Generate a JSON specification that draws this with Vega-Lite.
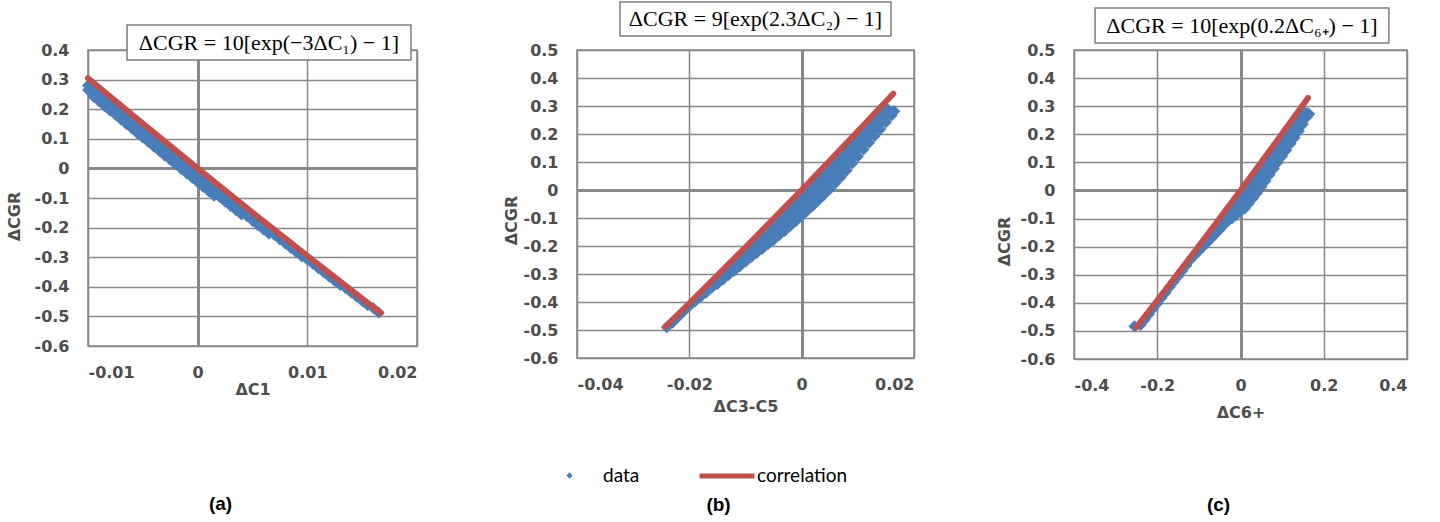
{
  "$schema": "https://vega.github.io/schema/vega-lite/v6.json",
  "background": "white",
  "padding": {"left": 5, "top": 0, "right": 10, "bottom": 5},
  "datasets": {
    "fit": [
      {"p": "a", "x": -0.01, "y": 0.3045}, {"p": "a", "x": -0.005, "y": 0.1511}, {"p": "a", "x": 0, "y": 0},
      {"p": "a", "x": 0.005, "y": -0.1489}, {"p": "a", "x": 0.01, "y": -0.2955}, {"p": "a", "x": 0.0167, "y": -0.4886},
      {"p": "b", "x": -0.0243, "y": -0.489}, {"p": "b", "x": -0.02, "y": -0.4046}, {"p": "b", "x": -0.01, "y": -0.2046},
      {"p": "b", "x": 0, "y": 0}, {"p": "b", "x": 0.01, "y": 0.2094}, {"p": "b", "x": 0.0163, "y": 0.3438},
      {"p": "c", "x": -0.25, "y": -0.4877}, {"p": "c", "x": -0.2, "y": -0.3921}, {"p": "c", "x": -0.1, "y": -0.198},
      {"p": "c", "x": 0, "y": 0}, {"p": "c", "x": 0.1, "y": 0.202}, {"p": "c", "x": 0.162, "y": 0.3293}
    ],
    "pts": [
      {"p":"a","x":-0.01,"y":0.28},{"p":"a","x":-0.01,"y":0.265},
      {"p":"a","x":-0.0095,"y":0.272},{"p":"a","x":-0.0095,"y":0.257},{"p":"a","x":-0.0095,"y":0.242},
      {"p":"a","x":-0.009,"y":0.257},{"p":"a","x":-0.009,"y":0.242},{"p":"a","x":-0.009,"y":0.227},
      {"p":"a","x":-0.0085,"y":0.241},{"p":"a","x":-0.0085,"y":0.226},{"p":"a","x":-0.0085,"y":0.211},
      {"p":"a","x":-0.008,"y":0.226},{"p":"a","x":-0.008,"y":0.211},{"p":"a","x":-0.008,"y":0.196},
      {"p":"a","x":-0.0075,"y":0.211},{"p":"a","x":-0.0075,"y":0.196},{"p":"a","x":-0.0075,"y":0.181},
      {"p":"a","x":-0.007,"y":0.195},{"p":"a","x":-0.007,"y":0.18},{"p":"a","x":-0.007,"y":0.165},
      {"p":"a","x":-0.0065,"y":0.18},{"p":"a","x":-0.0065,"y":0.165},{"p":"a","x":-0.0065,"y":0.15},
      {"p":"a","x":-0.006,"y":0.165},{"p":"a","x":-0.006,"y":0.15},{"p":"a","x":-0.006,"y":0.135},
      {"p":"a","x":-0.0055,"y":0.149},{"p":"a","x":-0.0055,"y":0.134},{"p":"a","x":-0.0055,"y":0.119},
      {"p":"a","x":-0.005,"y":0.134},{"p":"a","x":-0.005,"y":0.119},{"p":"a","x":-0.005,"y":0.104},
      {"p":"a","x":-0.0045,"y":0.119},{"p":"a","x":-0.0045,"y":0.104},{"p":"a","x":-0.0045,"y":0.089},
      {"p":"a","x":-0.004,"y":0.104},{"p":"a","x":-0.004,"y":0.089},{"p":"a","x":-0.004,"y":0.074},
      {"p":"a","x":-0.0035,"y":0.089},{"p":"a","x":-0.0035,"y":0.074},{"p":"a","x":-0.0035,"y":0.059},
      {"p":"a","x":-0.003,"y":0.073},{"p":"a","x":-0.003,"y":0.058},{"p":"a","x":-0.003,"y":0.043},
      {"p":"a","x":-0.0025,"y":0.058},{"p":"a","x":-0.0025,"y":0.043},{"p":"a","x":-0.0025,"y":0.028},
      {"p":"a","x":-0.002,"y":0.043},{"p":"a","x":-0.002,"y":0.028},{"p":"a","x":-0.002,"y":0.013},
      {"p":"a","x":-0.0015,"y":0.028},{"p":"a","x":-0.0015,"y":0.013},{"p":"a","x":-0.0015,"y":-0.002},
      {"p":"a","x":-0.001,"y":0.013},{"p":"a","x":-0.001,"y":-0.002},{"p":"a","x":-0.001,"y":-0.017},
      {"p":"a","x":-0.0005,"y":-0.002},{"p":"a","x":-0.0005,"y":-0.017},{"p":"a","x":-0.0005,"y":-0.032},
      {"p":"a","x":0,"y":-0.017},{"p":"a","x":0,"y":-0.032},{"p":"a","x":0,"y":-0.047},
      {"p":"a","x":0.0005,"y":-0.032},{"p":"a","x":0.0005,"y":-0.047},{"p":"a","x":0.0005,"y":-0.062},
      {"p":"a","x":0.001,"y":-0.047},{"p":"a","x":0.001,"y":-0.062},{"p":"a","x":0.001,"y":-0.077},
      {"p":"a","x":0.0015,"y":-0.062},{"p":"a","x":0.0015,"y":-0.077},{"p":"a","x":0.0015,"y":-0.092},
      {"p":"a","x":0.002,"y":-0.077},{"p":"a","x":0.002,"y":-0.097},
      {"p":"a","x":0.0025,"y":-0.092},{"p":"a","x":0.0025,"y":-0.112},
      {"p":"a","x":0.003,"y":-0.107},{"p":"a","x":0.003,"y":-0.127},
      {"p":"a","x":0.0035,"y":-0.121},{"p":"a","x":0.0035,"y":-0.141},
      {"p":"a","x":0.004,"y":-0.136},{"p":"a","x":0.004,"y":-0.156},
      {"p":"a","x":0.0045,"y":-0.151},{"p":"a","x":0.0045,"y":-0.162},
      {"p":"a","x":0.005,"y":-0.166},{"p":"a","x":0.005,"y":-0.177},
      {"p":"a","x":0.0055,"y":-0.181},{"p":"a","x":0.0055,"y":-0.192},
      {"p":"a","x":0.006,"y":-0.195},{"p":"a","x":0.006,"y":-0.206},
      {"p":"a","x":0.0065,"y":-0.21},{"p":"a","x":0.0065,"y":-0.221},
      {"p":"a","x":0.007,"y":-0.225},{"p":"a","x":0.0075,"y":-0.24},{"p":"a","x":0.008,"y":-0.254},
      {"p":"a","x":0.0085,"y":-0.269},{"p":"a","x":0.009,"y":-0.283},{"p":"a","x":0.0095,"y":-0.298},
      {"p":"a","x":0.01,"y":-0.308},{"p":"a","x":0.0105,"y":-0.322},{"p":"a","x":0.011,"y":-0.337},
      {"p":"a","x":0.0115,"y":-0.351},{"p":"a","x":0.012,"y":-0.366},{"p":"a","x":0.0125,"y":-0.38},
      {"p":"a","x":0.013,"y":-0.394},{"p":"a","x":0.0135,"y":-0.405},{"p":"a","x":0.014,"y":-0.419},
      {"p":"a","x":0.0145,"y":-0.434},{"p":"a","x":0.015,"y":-0.448},{"p":"a","x":0.0155,"y":-0.462},
      {"p":"a","x":0.016,"y":-0.472},{"p":"a","x":0.0165,"y":-0.487},

      {"p":"b","x":-0.024,"y":-0.49},{"p":"b","x":-0.023,"y":-0.474},{"p":"b","x":-0.022,"y":-0.454},
      {"p":"b","x":-0.021,"y":-0.434},{"p":"b","x":-0.02,"y":-0.415},{"p":"b","x":-0.019,"y":-0.398},
      {"p":"b","x":-0.018,"y":-0.382},{"p":"b","x":-0.017,"y":-0.366},{"p":"b","x":-0.016,"y":-0.349},
      {"p":"b","x":-0.015,"y":-0.326},{"p":"b","x":-0.015,"y":-0.336},
      {"p":"b","x":-0.014,"y":-0.306},{"p":"b","x":-0.014,"y":-0.32},
      {"p":"b","x":-0.013,"y":-0.286},{"p":"b","x":-0.013,"y":-0.304},
      {"p":"b","x":-0.012,"y":-0.266},{"p":"b","x":-0.012,"y":-0.288},
      {"p":"b","x":-0.011,"y":-0.246},{"p":"b","x":-0.011,"y":-0.259},{"p":"b","x":-0.011,"y":-0.272},
      {"p":"b","x":-0.01,"y":-0.226},{"p":"b","x":-0.01,"y":-0.241},{"p":"b","x":-0.01,"y":-0.256},
      {"p":"b","x":-0.009,"y":-0.205},{"p":"b","x":-0.009,"y":-0.222},{"p":"b","x":-0.009,"y":-0.24},
      {"p":"b","x":-0.008,"y":-0.185},{"p":"b","x":-0.008,"y":-0.205},{"p":"b","x":-0.008,"y":-0.225},
      {"p":"b","x":-0.007,"y":-0.165},{"p":"b","x":-0.007,"y":-0.187},{"p":"b","x":-0.007,"y":-0.21},
      {"p":"b","x":-0.006,"y":-0.144},{"p":"b","x":-0.006,"y":-0.161},{"p":"b","x":-0.006,"y":-0.177},{"p":"b","x":-0.006,"y":-0.194},
      {"p":"b","x":-0.005,"y":-0.124},{"p":"b","x":-0.005,"y":-0.142},{"p":"b","x":-0.005,"y":-0.161},{"p":"b","x":-0.005,"y":-0.179},
      {"p":"b","x":-0.004,"y":-0.103},{"p":"b","x":-0.004,"y":-0.123},{"p":"b","x":-0.004,"y":-0.143},{"p":"b","x":-0.004,"y":-0.162},
      {"p":"b","x":-0.003,"y":-0.083},{"p":"b","x":-0.003,"y":-0.104},{"p":"b","x":-0.003,"y":-0.125},{"p":"b","x":-0.003,"y":-0.146},
      {"p":"b","x":-0.002,"y":-0.062},{"p":"b","x":-0.002,"y":-0.084},{"p":"b","x":-0.002,"y":-0.106},{"p":"b","x":-0.002,"y":-0.128},
      {"p":"b","x":-0.001,"y":-0.042},{"p":"b","x":-0.001,"y":-0.065},{"p":"b","x":-0.001,"y":-0.088},{"p":"b","x":-0.001,"y":-0.111},
      {"p":"b","x":0,"y":-0.021},{"p":"b","x":0,"y":-0.039},{"p":"b","x":0,"y":-0.057},{"p":"b","x":0,"y":-0.075},{"p":"b","x":0,"y":-0.093},
      {"p":"b","x":0.001,"y":0},{"p":"b","x":0.001,"y":-0.019},{"p":"b","x":0.001,"y":-0.037},{"p":"b","x":0.001,"y":-0.056},{"p":"b","x":0.001,"y":-0.074},
      {"p":"b","x":0.002,"y":0.021},{"p":"b","x":0.002,"y":0.002},{"p":"b","x":0.002,"y":-0.017},{"p":"b","x":0.002,"y":-0.036},{"p":"b","x":0.002,"y":-0.056},
      {"p":"b","x":0.003,"y":0.041},{"p":"b","x":0.003,"y":0.022},{"p":"b","x":0.003,"y":0.002},{"p":"b","x":0.003,"y":-0.017},{"p":"b","x":0.003,"y":-0.037},
      {"p":"b","x":0.004,"y":0.062},{"p":"b","x":0.004,"y":0.042},{"p":"b","x":0.004,"y":0.022},{"p":"b","x":0.004,"y":0.002},{"p":"b","x":0.004,"y":-0.017},
      {"p":"b","x":0.005,"y":0.083},{"p":"b","x":0.005,"y":0.063},{"p":"b","x":0.005,"y":0.043},{"p":"b","x":0.005,"y":0.023},{"p":"b","x":0.005,"y":0.003},
      {"p":"b","x":0.006,"y":0.104},{"p":"b","x":0.006,"y":0.084},{"p":"b","x":0.006,"y":0.064},{"p":"b","x":0.006,"y":0.044},{"p":"b","x":0.006,"y":0.024},
      {"p":"b","x":0.007,"y":0.125},{"p":"b","x":0.007,"y":0.105},{"p":"b","x":0.007,"y":0.085},{"p":"b","x":0.007,"y":0.066},{"p":"b","x":0.007,"y":0.046},
      {"p":"b","x":0.008,"y":0.146},{"p":"b","x":0.008,"y":0.127},{"p":"b","x":0.008,"y":0.108},{"p":"b","x":0.008,"y":0.089},{"p":"b","x":0.008,"y":0.07},
      {"p":"b","x":0.009,"y":0.167},{"p":"b","x":0.009,"y":0.149},{"p":"b","x":0.009,"y":0.131},{"p":"b","x":0.009,"y":0.113},{"p":"b","x":0.009,"y":0.095},
      {"p":"b","x":0.01,"y":0.188},{"p":"b","x":0.01,"y":0.166},{"p":"b","x":0.01,"y":0.143},{"p":"b","x":0.01,"y":0.12},
      {"p":"b","x":0.011,"y":0.21},{"p":"b","x":0.011,"y":0.188},{"p":"b","x":0.011,"y":0.166},{"p":"b","x":0.011,"y":0.145},
      {"p":"b","x":0.012,"y":0.231},{"p":"b","x":0.012,"y":0.21},{"p":"b","x":0.012,"y":0.189},{"p":"b","x":0.012,"y":0.169},
      {"p":"b","x":0.013,"y":0.252},{"p":"b","x":0.013,"y":0.232},{"p":"b","x":0.013,"y":0.213},{"p":"b","x":0.013,"y":0.193},
      {"p":"b","x":0.014,"y":0.273},{"p":"b","x":0.014,"y":0.255},{"p":"b","x":0.014,"y":0.236},{"p":"b","x":0.014,"y":0.217},
      {"p":"b","x":0.015,"y":0.295},{"p":"b","x":0.015,"y":0.277},{"p":"b","x":0.015,"y":0.26},{"p":"b","x":0.015,"y":0.242},
      {"p":"b","x":0.016,"y":0.279},{"p":"b","x":0.016,"y":0.266},{"p":"b","x":0.0165,"y":0.281},

      {"p":"c","x":-0.255,"y":-0.483},{"p":"c","x":-0.24,"y":-0.479},{"p":"c","x":-0.23,"y":-0.46},
      {"p":"c","x":-0.22,"y":-0.441},{"p":"c","x":-0.21,"y":-0.421},{"p":"c","x":-0.2,"y":-0.402},
      {"p":"c","x":-0.19,"y":-0.383},{"p":"c","x":-0.18,"y":-0.364},{"p":"c","x":-0.17,"y":-0.344},
      {"p":"c","x":-0.16,"y":-0.325},{"p":"c","x":-0.15,"y":-0.306},{"p":"c","x":-0.14,"y":-0.286},
      {"p":"c","x":-0.13,"y":-0.267},{"p":"c","x":-0.12,"y":-0.247},{"p":"c","x":-0.11,"y":-0.231},
      {"p":"c","x":-0.1,"y":-0.216},{"p":"c","x":-0.09,"y":-0.2},
      {"p":"c","x":-0.08,"y":-0.18},{"p":"c","x":-0.08,"y":-0.186},
      {"p":"c","x":-0.07,"y":-0.16},{"p":"c","x":-0.07,"y":-0.171},
      {"p":"c","x":-0.06,"y":-0.14},{"p":"c","x":-0.06,"y":-0.155},
      {"p":"c","x":-0.05,"y":-0.121},{"p":"c","x":-0.05,"y":-0.14},
      {"p":"c","x":-0.04,"y":-0.101},{"p":"c","x":-0.04,"y":-0.124},
      {"p":"c","x":-0.03,"y":-0.081},{"p":"c","x":-0.03,"y":-0.095},{"p":"c","x":-0.03,"y":-0.109},
      {"p":"c","x":-0.02,"y":-0.061},{"p":"c","x":-0.02,"y":-0.08},{"p":"c","x":-0.02,"y":-0.099},
      {"p":"c","x":-0.01,"y":-0.041},{"p":"c","x":-0.01,"y":-0.064},{"p":"c","x":-0.01,"y":-0.087},
      {"p":"c","x":0,"y":-0.021},{"p":"c","x":0,"y":-0.039},{"p":"c","x":0,"y":-0.056},{"p":"c","x":0,"y":-0.074},
      {"p":"c","x":0.01,"y":-0.001},{"p":"c","x":0.01,"y":-0.022},{"p":"c","x":0.01,"y":-0.043},{"p":"c","x":0.01,"y":-0.064},
      {"p":"c","x":0.02,"y":0.019},{"p":"c","x":0.02,"y":-0.003},{"p":"c","x":0.02,"y":-0.024},{"p":"c","x":0.02,"y":-0.046},
      {"p":"c","x":0.03,"y":0.039},{"p":"c","x":0.03,"y":0.017},{"p":"c","x":0.03,"y":-0.005},{"p":"c","x":0.03,"y":-0.028},
      {"p":"c","x":0.04,"y":0.059},{"p":"c","x":0.04,"y":0.037},{"p":"c","x":0.04,"y":0.014},{"p":"c","x":0.04,"y":-0.009},
      {"p":"c","x":0.05,"y":0.08},{"p":"c","x":0.05,"y":0.057},{"p":"c","x":0.05,"y":0.034},{"p":"c","x":0.05,"y":0.012},
      {"p":"c","x":0.06,"y":0.1},{"p":"c","x":0.06,"y":0.078},{"p":"c","x":0.06,"y":0.056},{"p":"c","x":0.06,"y":0.034},
      {"p":"c","x":0.07,"y":0.12},{"p":"c","x":0.07,"y":0.099},{"p":"c","x":0.07,"y":0.077},{"p":"c","x":0.07,"y":0.056},
      {"p":"c","x":0.08,"y":0.14},{"p":"c","x":0.08,"y":0.119},{"p":"c","x":0.08,"y":0.098},{"p":"c","x":0.08,"y":0.077},
      {"p":"c","x":0.09,"y":0.161},{"p":"c","x":0.09,"y":0.14},{"p":"c","x":0.09,"y":0.12},{"p":"c","x":0.09,"y":0.1},
      {"p":"c","x":0.1,"y":0.181},{"p":"c","x":0.1,"y":0.161},{"p":"c","x":0.1,"y":0.142},{"p":"c","x":0.1,"y":0.122},
      {"p":"c","x":0.11,"y":0.201},{"p":"c","x":0.11,"y":0.182},{"p":"c","x":0.11,"y":0.163},{"p":"c","x":0.11,"y":0.143},
      {"p":"c","x":0.12,"y":0.222},{"p":"c","x":0.12,"y":0.203},{"p":"c","x":0.12,"y":0.185},{"p":"c","x":0.12,"y":0.166},
      {"p":"c","x":0.13,"y":0.242},{"p":"c","x":0.13,"y":0.224},{"p":"c","x":0.13,"y":0.206},{"p":"c","x":0.13,"y":0.188},
      {"p":"c","x":0.14,"y":0.263},{"p":"c","x":0.14,"y":0.246},{"p":"c","x":0.14,"y":0.228},{"p":"c","x":0.14,"y":0.211},
      {"p":"c","x":0.15,"y":0.284},{"p":"c","x":0.15,"y":0.268},{"p":"c","x":0.15,"y":0.252},{"p":"c","x":0.15,"y":0.236},
      {"p":"c","x":0.16,"y":0.276},{"p":"c","x":0.16,"y":0.262},{"p":"c","x":0.165,"y":0.272}
    ]
  },
  "spacing": 160,
  "bounds": "flush",
  "resolve": {
    "scale": {"x": "independent", "y": "independent", "fill": "shared", "stroke": "shared"},
    "legend": {"fill": "shared", "stroke": "shared"}
  },
  "hconcat": [
    {
      "width": 329,
      "height": 296,
      "title": {"text": "(a)", "orient": "bottom", "offset": 98, "dx": -32},
      "layer": [
        {
          "data": {"name": "pts"},
          "transform": [{"filter": "datum.p === 'a'"}],
          "mark": {"type": "point", "shape": "diamond", "filled": true, "size": 144, "opacity": 1},
          "encoding": {
            "x": {"field": "x", "type": "quantitative",
              "scale": {"domain": [-0.01, 0.02], "nice": false, "zero": false},
              "axis": {"title": "ΔC1", "values": [-0.01, 0, 0.01, 0.02], "tickCount": 4, "titlePadding": 1,
                "labelExpr": "replace(datum.label, '\u2212', '-')",
                "gridWidth": {"condition": {"test": "datum.value === 0", "value": 3}, "value": 1.5}}},
            "y": {"field": "y", "type": "quantitative",
              "scale": {"domain": [-0.6, 0.4], "nice": false, "zero": false},
              "axis": {"title": "ΔCGR", "values": [-0.6, -0.5, -0.4, -0.3, -0.2, -0.1, 0, 0.1, 0.2, 0.3, 0.4], "tickCount": 11,
                "titlePadding": 12, "titleY": 166,
                "labelExpr": "replace(datum.label, '\u2212', '-')",
                "gridWidth": {"condition": {"test": "datum.value === 0", "value": 3}, "value": 1.5}}},
            "fill": {"datum": "data", "type": "nominal",
              "scale": {"domain": ["data"], "range": ["#4a7ebb"]},
              "legend": {"orient": "none", "legendX": 472, "legendY": 416, "title": null,
                "symbolType": "diamond", "symbolSize": 40, "labelOffset": 24}}
          }
        },
        {
          "data": {"name": "fit"},
          "transform": [{"filter": "datum.p === 'a'"}],
          "mark": {"type": "line", "strokeWidth": 6, "strokeCap": "round"},
          "encoding": {
            "x": {"field": "x", "type": "quantitative",
              "scale": {"domain": [-0.01, 0.02], "nice": false, "zero": false},
              "axis": {"title": "ΔC1", "values": [-0.01, 0, 0.01, 0.02], "tickCount": 4, "titlePadding": 1,
                "labelExpr": "replace(datum.label, '\u2212', '-')",
                "gridWidth": {"condition": {"test": "datum.value === 0", "value": 3}, "value": 1.5}}},
            "y": {"field": "y", "type": "quantitative",
              "scale": {"domain": [-0.6, 0.4], "nice": false, "zero": false},
              "axis": {"title": "ΔCGR", "values": [-0.6, -0.5, -0.4, -0.3, -0.2, -0.1, 0, 0.1, 0.2, 0.3, 0.4], "tickCount": 11,
                "titlePadding": 12, "titleY": 166,
                "labelExpr": "replace(datum.label, '\u2212', '-')",
                "gridWidth": {"condition": {"test": "datum.value === 0", "value": 3}, "value": 1.5}}},
            "stroke": {"datum": "correlation", "type": "nominal",
              "scale": {"domain": ["correlation"], "range": ["#c0504d"]},
              "legend": {"orient": "none", "legendX": 609, "legendY": 396, "title": null,
                "symbolType": "stroke", "symbolSize": 3025, "symbolStrokeWidth": 5, "labelOffset": 0}}
          }
        },
        {
          "data": {"values": [{}]},
          "mark": {"type": "rect", "fill": "white", "stroke": "#7f7f7f", "strokeWidth": 1.5},
          "encoding": {
            "x": {"datum": -0.00644, "type": "quantitative",
              "scale": {"domain": [-0.01, 0.02], "nice": false, "zero": false},
              "axis": {"title": "ΔC1", "values": [-0.01, 0, 0.01, 0.02], "tickCount": 4, "titlePadding": 1,
                "labelExpr": "replace(datum.label, '\u2212', '-')",
                "gridWidth": {"condition": {"test": "datum.value === 0", "value": 3}, "value": 1.5}}},
            "x2": {"datum": 0.01945},
            "y": {"datum": 0.4845, "type": "quantitative",
              "scale": {"domain": [-0.6, 0.4], "nice": false, "zero": false},
              "axis": {"title": "ΔCGR", "values": [-0.6, -0.5, -0.4, -0.3, -0.2, -0.1, 0, 0.1, 0.2, 0.3, 0.4], "tickCount": 11,
                "titlePadding": 12, "titleY": 166,
                "labelExpr": "replace(datum.label, '\u2212', '-')",
                "gridWidth": {"condition": {"test": "datum.value === 0", "value": 3}, "value": 1.5}}},
            "y2": {"datum": 0.366}
          }
        },
        {
          "data": {"values": [{}]},
          "mark": {"type": "text", "font": "Liberation Serif", "fontSize": 22, "color": "black", "align": "center", "baseline": "middle"},
          "encoding": {
            "x": {"datum": 0.0065, "type": "quantitative",
              "scale": {"domain": [-0.01, 0.02], "nice": false, "zero": false},
              "axis": {"title": "ΔC1", "values": [-0.01, 0, 0.01, 0.02], "tickCount": 4, "titlePadding": 1,
                "labelExpr": "replace(datum.label, '\u2212', '-')",
                "gridWidth": {"condition": {"test": "datum.value === 0", "value": 3}, "value": 1.5}}},
            "y": {"datum": 0.4253, "type": "quantitative",
              "scale": {"domain": [-0.6, 0.4], "nice": false, "zero": false},
              "axis": {"title": "ΔCGR", "values": [-0.6, -0.5, -0.4, -0.3, -0.2, -0.1, 0, 0.1, 0.2, 0.3, 0.4], "tickCount": 11,
                "titlePadding": 12, "titleY": 166,
                "labelExpr": "replace(datum.label, '\u2212', '-')",
                "gridWidth": {"condition": {"test": "datum.value === 0", "value": 3}, "value": 1.5}}},
            "text": {"value": "ΔCGR = 10[exp(−3ΔC₁) − 1]"}
          }
        }
      ]
    },
    {
      "width": 337,
      "height": 308,
      "title": {"text": "(b)", "orient": "bottom", "offset": 82, "dx": -27},
      "layer": [
        {
          "data": {"name": "pts"},
          "transform": [{"filter": "datum.p === 'b'"}],
          "mark": {"type": "point", "shape": "diamond", "filled": true, "size": 144, "opacity": 1},
          "encoding": {
            "x": {"field": "x", "type": "quantitative",
              "scale": {"domain": [-0.04, 0.02], "nice": false, "zero": false},
              "axis": {"title": "ΔC3-C5", "values": [-0.04, -0.02, 0, 0.02], "tickCount": 4, "titlePadding": 6,
                "labelExpr": "replace(datum.label, '\u2212', '-')",
                "gridWidth": {"condition": {"test": "datum.value === 0", "value": 3}, "value": 1.5}}},
            "y": {"field": "y", "type": "quantitative",
              "scale": {"domain": [-0.6, 0.5], "nice": false, "zero": false},
              "axis": {"title": "ΔCGR", "values": [-0.6, -0.5, -0.4, -0.3, -0.2, -0.1, 0, 0.1, 0.2, 0.3, 0.4, 0.5], "tickCount": 12,
                "titlePadding": 4, "titleY": 170,
                "labelExpr": "replace(datum.label, '\u2212', '-')",
                "gridWidth": {"condition": {"test": "datum.value === 0", "value": 3}, "value": 1.5}}},
            "fill": {"datum": "data", "type": "nominal"}
          }
        },
        {
          "data": {"name": "fit"},
          "transform": [{"filter": "datum.p === 'b'"}],
          "mark": {"type": "line", "strokeWidth": 6, "strokeCap": "round"},
          "encoding": {
            "x": {"field": "x", "type": "quantitative",
              "scale": {"domain": [-0.04, 0.02], "nice": false, "zero": false},
              "axis": {"title": "ΔC3-C5", "values": [-0.04, -0.02, 0, 0.02], "tickCount": 4, "titlePadding": 6,
                "labelExpr": "replace(datum.label, '\u2212', '-')",
                "gridWidth": {"condition": {"test": "datum.value === 0", "value": 3}, "value": 1.5}}},
            "y": {"field": "y", "type": "quantitative",
              "scale": {"domain": [-0.6, 0.5], "nice": false, "zero": false},
              "axis": {"title": "ΔCGR", "values": [-0.6, -0.5, -0.4, -0.3, -0.2, -0.1, 0, 0.1, 0.2, 0.3, 0.4, 0.5], "tickCount": 12,
                "titlePadding": 4, "titleY": 170,
                "labelExpr": "replace(datum.label, '\u2212', '-')",
                "gridWidth": {"condition": {"test": "datum.value === 0", "value": 3}, "value": 1.5}}},
            "stroke": {"datum": "correlation", "type": "nominal"}
          }
        },
        {
          "data": {"values": [{}]},
          "mark": {"type": "rect", "fill": "white", "stroke": "#7f7f7f", "strokeWidth": 1.5},
          "encoding": {
            "x": {"datum": -0.03234, "type": "quantitative",
              "scale": {"domain": [-0.04, 0.02], "nice": false, "zero": false},
              "axis": {"title": "ΔC3-C5", "values": [-0.04, -0.02, 0, 0.02], "tickCount": 4, "titlePadding": 6,
                "labelExpr": "replace(datum.label, '\u2212', '-')",
                "gridWidth": {"condition": {"test": "datum.value === 0", "value": 3}, "value": 1.5}}},
            "x2": {"datum": 0.0159},
            "y": {"datum": 0.6714, "type": "quantitative",
              "scale": {"domain": [-0.6, 0.5], "nice": false, "zero": false},
              "axis": {"title": "ΔCGR", "values": [-0.6, -0.5, -0.4, -0.3, -0.2, -0.1, 0, 0.1, 0.2, 0.3, 0.4, 0.5], "tickCount": 12,
                "titlePadding": 4, "titleY": 170,
                "labelExpr": "replace(datum.label, '\u2212', '-')",
                "gridWidth": {"condition": {"test": "datum.value === 0", "value": 3}, "value": 1.5}}},
            "y2": {"datum": 0.55}
          }
        },
        {
          "data": {"values": [{}]},
          "mark": {"type": "text", "font": "Liberation Serif", "fontSize": 22, "color": "black", "align": "center", "baseline": "middle"},
          "encoding": {
            "x": {"datum": -0.00822, "type": "quantitative",
              "scale": {"domain": [-0.04, 0.02], "nice": false, "zero": false},
              "axis": {"title": "ΔC3-C5", "values": [-0.04, -0.02, 0, 0.02], "tickCount": 4, "titlePadding": 6,
                "labelExpr": "replace(datum.label, '\u2212', '-')",
                "gridWidth": {"condition": {"test": "datum.value === 0", "value": 3}, "value": 1.5}}},
            "y": {"datum": 0.6107, "type": "quantitative",
              "scale": {"domain": [-0.6, 0.5], "nice": false, "zero": false},
              "axis": {"title": "ΔCGR", "values": [-0.6, -0.5, -0.4, -0.3, -0.2, -0.1, 0, 0.1, 0.2, 0.3, 0.4, 0.5], "tickCount": 12,
                "titlePadding": 4, "titleY": 170,
                "labelExpr": "replace(datum.label, '\u2212', '-')",
                "gridWidth": {"condition": {"test": "datum.value === 0", "value": 3}, "value": 1.5}}},
            "text": {"value": "ΔCGR = 9[exp(2.3ΔC₂) − 1]"}
          }
        }
      ]
    },
    {
      "width": 333,
      "height": 309,
      "title": {"text": "(c)", "orient": "bottom", "offset": 76, "dx": -22},
      "layer": [
        {
          "data": {"name": "pts"},
          "transform": [{"filter": "datum.p === 'c'"}],
          "mark": {"type": "point", "shape": "diamond", "filled": true, "size": 144, "opacity": 1},
          "encoding": {
            "x": {"field": "x", "type": "quantitative",
              "scale": {"domain": [-0.4, 0.4], "nice": false, "zero": false},
              "axis": {"title": "ΔC6+", "values": [-0.4, -0.2, 0, 0.2, 0.4], "tickCount": 5, "titlePadding": 11,
                "labelExpr": "replace(datum.label, '\u2212', '-')",
                "gridWidth": {"condition": {"test": "datum.value === 0", "value": 3}, "value": 1.5}}},
            "y": {"field": "y", "type": "quantitative",
              "scale": {"domain": [-0.6, 0.5], "nice": false, "zero": false},
              "axis": {"title": "ΔCGR", "values": [-0.6, -0.5, -0.4, -0.3, -0.2, -0.1, 0, 0.1, 0.2, 0.3, 0.4, 0.5], "tickCount": 12,
                "titlePadding": 8, "titleY": 191,
                "labelExpr": "replace(datum.label, '\u2212', '-')",
                "gridWidth": {"condition": {"test": "datum.value === 0", "value": 3}, "value": 1.5}}},
            "fill": {"datum": "data", "type": "nominal"}
          }
        },
        {
          "data": {"name": "fit"},
          "transform": [{"filter": "datum.p === 'c'"}],
          "mark": {"type": "line", "strokeWidth": 6, "strokeCap": "round"},
          "encoding": {
            "x": {"field": "x", "type": "quantitative",
              "scale": {"domain": [-0.4, 0.4], "nice": false, "zero": false},
              "axis": {"title": "ΔC6+", "values": [-0.4, -0.2, 0, 0.2, 0.4], "tickCount": 5, "titlePadding": 11,
                "labelExpr": "replace(datum.label, '\u2212', '-')",
                "gridWidth": {"condition": {"test": "datum.value === 0", "value": 3}, "value": 1.5}}},
            "y": {"field": "y", "type": "quantitative",
              "scale": {"domain": [-0.6, 0.5], "nice": false, "zero": false},
              "axis": {"title": "ΔCGR", "values": [-0.6, -0.5, -0.4, -0.3, -0.2, -0.1, 0, 0.1, 0.2, 0.3, 0.4, 0.5], "tickCount": 12,
                "titlePadding": 8, "titleY": 191,
                "labelExpr": "replace(datum.label, '\u2212', '-')",
                "gridWidth": {"condition": {"test": "datum.value === 0", "value": 3}, "value": 1.5}}},
            "stroke": {"datum": "correlation", "type": "nominal"}
          }
        },
        {
          "data": {"values": [{}]},
          "mark": {"type": "rect", "fill": "white", "stroke": "#7f7f7f", "strokeWidth": 1.5},
          "encoding": {
            "x": {"datum": -0.3494, "type": "quantitative",
              "scale": {"domain": [-0.4, 0.4], "nice": false, "zero": false},
              "axis": {"title": "ΔC6+", "values": [-0.4, -0.2, 0, 0.2, 0.4], "tickCount": 5, "titlePadding": 11,
                "labelExpr": "replace(datum.label, '\u2212', '-')",
                "gridWidth": {"condition": {"test": "datum.value === 0", "value": 3}, "value": 1.5}}},
            "x2": {"datum": 0.3566},
            "y": {"datum": 0.6495, "type": "quantitative",
              "scale": {"domain": [-0.6, 0.5], "nice": false, "zero": false},
              "axis": {"title": "ΔCGR", "values": [-0.6, -0.5, -0.4, -0.3, -0.2, -0.1, 0, 0.1, 0.2, 0.3, 0.4, 0.5], "tickCount": 12,
                "titlePadding": 8, "titleY": 191,
                "labelExpr": "replace(datum.label, '\u2212', '-')",
                "gridWidth": {"condition": {"test": "datum.value === 0", "value": 3}, "value": 1.5}}},
            "y2": {"datum": 0.525}
          }
        },
        {
          "data": {"values": [{}]},
          "mark": {"type": "text", "font": "Liberation Serif", "fontSize": 22, "color": "black", "align": "center", "baseline": "middle"},
          "encoding": {
            "x": {"datum": 0.0036, "type": "quantitative",
              "scale": {"domain": [-0.4, 0.4], "nice": false, "zero": false},
              "axis": {"title": "ΔC6+", "values": [-0.4, -0.2, 0, 0.2, 0.4], "tickCount": 5, "titlePadding": 11,
                "labelExpr": "replace(datum.label, '\u2212', '-')",
                "gridWidth": {"condition": {"test": "datum.value === 0", "value": 3}, "value": 1.5}}},
            "y": {"datum": 0.587, "type": "quantitative",
              "scale": {"domain": [-0.6, 0.5], "nice": false, "zero": false},
              "axis": {"title": "ΔCGR", "values": [-0.6, -0.5, -0.4, -0.3, -0.2, -0.1, 0, 0.1, 0.2, 0.3, 0.4, 0.5], "tickCount": 12,
                "titlePadding": 8, "titleY": 191,
                "labelExpr": "replace(datum.label, '\u2212', '-')",
                "gridWidth": {"condition": {"test": "datum.value === 0", "value": 3}, "value": 1.5}}},
            "text": {"value": "ΔCGR = 10[exp(0.2ΔC₆₊) − 1]"}
          }
        }
      ]
    }
  ],
  "config": {
    "numberFormat": "~g",
    "view": {"stroke": "#888888", "strokeWidth": 1.5},
    "axis": {
      "grid": true, "gridColor": "#888888", "domain": false, "ticks": false, "labelOverlap": false,
      "labelFont": "DejaVu Sans", "labelFontWeight": "bold", "labelFontSize": 16, "labelColor": "#4d4d4d",
      "titleFont": "DejaVu Sans", "titleFontWeight": "bold", "titleFontSize": 16, "titleColor": "#4d4d4d"
    },
    "axisX": {"labelPadding": 18},
    "axisY": {"labelPadding": 19},
    "legend": {"labelFont": "Lato", "labelFontSize": 19, "labelColor": "black"},
    "title": {"font": "Liberation Sans", "fontSize": 19, "fontWeight": "bold", "color": "black", "anchor": "middle"}
  }
}
